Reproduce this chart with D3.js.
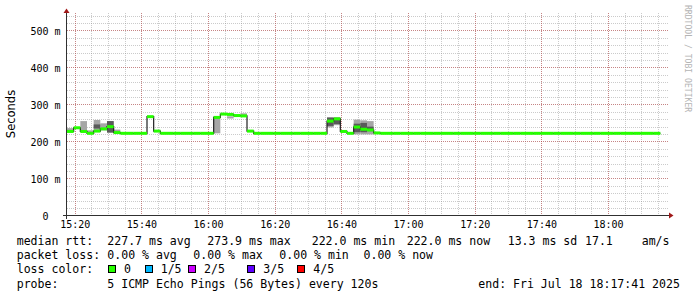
<!DOCTYPE html>
<html>
<head>
<meta charset="utf-8">
<script src="https://cdn.jsdelivr.net/npm/d3@7"></script>
<style>
  body { margin: 0; background: #fff; }
  svg { display: block; }
  text { white-space: pre; }
</style>
</head>
<body>
<div id="chart"></div>
<script>
// graph window and probe step
const startTime = new Date(2025, 6, 18, 15, 17, 41)
const endTime = new Date(2025, 6, 18, 18, 17, 41)
const stepSeconds = 120

// median rtt per probe step (ms)
const medianRtt = [
  227, 237, 227, 222, 228, 234, 240, 224, 222, 222, 222, 222, 267, 228,
  222, 222, 222, 222, 222, 222, 222, 222,
  265, 274, 273, 270, 269, 228,
  222, 222, 222, 222, 222, 222, 222, 222, 222, 222, 222,
  255, 261, 227, 222, 239, 233, 231, 223,
  222, 222, 222, 222, 222, 222, 222, 222, 222, 222,
  222, 222, 222, 222, 222, 222, 222, 222, 222, 222,
  222, 222, 222, 222, 222, 222, 222, 222, 222, 222,
  222, 222, 222, 222, 222, 222, 222, 222, 222, 222,
  222, 222
]

// smoke bands: [step, low ms, high ms]
const smokeOuter = [
  [0, 225, 236], [2, 226, 255], [3, 222, 230], [4, 226, 258], [5, 230, 249],
  [6, 224, 255], [7, 224, 232], [22, 222, 268], [24, 262, 268], [26, 269, 276],
  [39, 238, 266], [40, 244, 265], [43, 219, 259], [44, 219, 257], [45, 219, 255]
]
const smokeInner = [
  [4, 235, 246], [6, 224, 255], [39, 242, 264], [40, 247, 264],
  [43, 225, 248], [44, 225, 250], [45, 228, 240]
]

// axis ticks
const xTickLabels = ['15:20', '15:40', '16:00', '16:20', '16:40', '17:00', '17:20', '17:40', '18:00']
const yTickValues = [0, 100, 200, 300, 400, 500]

// legend
const rttStats = ['227.7 ms avg', '273.9 ms max', '222.0 ms min', '222.0 ms now', '13.3 ms sd', '17.1', 'am/s']
const lossStats = ['0.00 % avg', '0.00 % max', '0.00 % min', '0.00 % now']
const lossLabels = ['0', '1/5', '2/5', '3/5', '4/5']
const lossColors = ['#26ff00', '#00b8ff', '#cc00ff', '#5e00ff', '#ff0000']
const probeText = '5 ICMP Echo Pings (56 Bytes) every 120s'
const endText = 'end: Fri Jul 18 18:17:41 2025'

const width = 697, height = 297
const svg = d3.select('#chart')
    .append('svg')
        .attr('width', width)
        .attr('height', height)
        .style('font-family', '"DejaVu Sans Mono", monospace')

const x = d3.scaleTime().domain([startTime, endTime]).range([67, 667])
const y = d3.scaleLinear().domain([0, 547]).range([215.5, 13])
const px = (v) => Math.round(v) + 0.5
const stepTime = (i) => new Date(startTime.getTime() + i * stepSeconds * 1000)
const parseTick = (s) => {
    const [h, m] = s.split(':').map(Number)
    return new Date(2025, 6, 18, h, m)
}

// grid
const grid = svg.append('g').attr('class', 'grid')
const minorX = d3.timeMinute.every(5).range(startTime, endTime)
grid.selectAll('.vminor').data(minorX).join('line')
    .attr('x1', (d) => px(x(d))).attr('x2', (d) => px(x(d)))
    .attr('y1', 13).attr('y2', 215)
    .attr('stroke', '#8c8c8c').attr('stroke-opacity', 0.45).attr('stroke-dasharray', '1,1')
grid.selectAll('.hminor').data(d3.range(20, 547, 20)).join('line')
    .attr('x1', 67).attr('x2', 668)
    .attr('y1', (d) => px(y(d))).attr('y2', (d) => px(y(d)))
    .attr('stroke', '#8c8c8c').attr('stroke-opacity', 0.45).attr('stroke-dasharray', '1,1')
grid.selectAll('.vmajor').data(xTickLabels.map(parseTick)).join('line')
    .attr('x1', (d) => px(x(d))).attr('x2', (d) => px(x(d)))
    .attr('y1', 13).attr('y2', 215)
    .attr('stroke', '#c03030').attr('stroke-opacity', 0.45).attr('stroke-dasharray', '1,1')
grid.selectAll('.hmajor').data(yTickValues.filter((d) => d > 0)).join('line')
    .attr('x1', 67).attr('x2', 668)
    .attr('y1', (d) => px(y(d))).attr('y2', (d) => px(y(d)))
    .attr('stroke', '#c03030').attr('stroke-opacity', 0.45).attr('stroke-dasharray', '1,1')

// smoke
const plot = svg.append('g').attr('class', 'plot')
const drawSmoke = (bands, color) => {
    plot.append('g').selectAll('rect').data(bands).join('rect')
        .attr('x', (d) => x(stepTime(d[0])))
        .attr('width', (d) => x(stepTime(d[0] + 1)) - x(stepTime(d[0])))
        .attr('y', (d) => y(d[2]))
        .attr('height', (d) => y(d[1]) - y(d[2]))
        .attr('fill', color)
}
drawSmoke(smokeOuter, '#a6a6a6')
drawSmoke(smokeInner, '#5a5a5a')

// median line
const points = medianRtt.map((v, i) => [stepTime(i), v])
points.push([stepTime(medianRtt.length), medianRtt[medianRtt.length - 1]])
const medianLine = d3.line()
    .x((d) => x(d[0]))
    .y((d) => y(d[1]))
    .curve(d3.curveStepAfter)
plot.append('path')
    .attr('d', medianLine(points))
    .attr('fill', 'none')
    .attr('stroke', '#202020')
    .attr('stroke-width', 1.2)

// loss coloured median band
plot.append('g').selectAll('rect').data(medianRtt).join('rect')
    .attr('x', (d, i) => x(stepTime(i)))
    .attr('width', (d, i) => x(stepTime(i + 1)) - x(stepTime(i)))
    .attr('y', (d) => y(d) - 1.5)
    .attr('height', 3)
    .attr('fill', lossColors[0])

// axes
const xAxis = d3.axisBottom(x)
    .tickValues(xTickLabels.map(parseTick))
    .tickFormat(d3.timeFormat('%H:%M'))
    .tickSize(0)
svg.append('g')
    .attr('transform', 'translate(0,215.5)')
    .call(xAxis)
    .call((g) => g.select('.domain').remove())
    .call((g) => g.selectAll('text')
        .attr('y', 12).attr('dy', null)
        .style('font-family', '"DejaVu Sans Mono", monospace')
        .style('font-size', '10px').attr('fill', '#000'))

const yAxis = d3.axisLeft(y)
    .tickValues(yTickValues)
    .tickFormat((d) => d === 0 ? '0  ' : d + ' m')
    .tickSize(0)
svg.append('g')
    .attr('transform', 'translate(60.5,0)')
    .call(yAxis)
    .call((g) => g.select('.domain').remove())
    .call((g) => g.selectAll('text')
        .attr('x', 0).attr('dy', '0.36em')
        .attr('xml:space', 'preserve')
        .style('font-family', '"DejaVu Sans Mono", monospace')
        .style('font-size', '10px').attr('fill', '#000'))

// axis lines and arrows
svg.append('line').attr('x1', 63).attr('x2', 670).attr('y1', 215.5).attr('y2', 215.5)
    .attr('stroke', '#303030')
svg.append('line').attr('x1', 66.5).attr('x2', 66.5).attr('y1', 12).attr('y2', 219)
    .attr('stroke', '#303030')
svg.append('path').attr('d', 'M669,212.5L673.5,215.5L669,218.5Z').attr('fill', '#a01818')
svg.append('path').attr('d', 'M63.5,13L66.5,8.5L69.5,13Z').attr('fill', '#a01818')

// titles
svg.append('text')
    .attr('transform', 'translate(15,114) rotate(-90)')
    .attr('text-anchor', 'middle')
    .style('font-family', '"DejaVu Sans", sans-serif')
    .style('font-size', '11.5px')
    .text('Seconds')
svg.append('text')
    .attr('transform', 'translate(684.5,5) rotate(90)')
    .style('font-size', '8.1px')
    .attr('fill', '#b4b4b4')
    .text('RRDTOOL / TOBI OETIKER')

// legend
const legend = svg.append('g').style('font-size', '11.55px').attr('fill', '#000')
const row = [245, 259.2, 273.4, 287.6]
legend.append('text').attr('x', 16.7).attr('y', row[0]).text('median rtt:')
const rttX = [107.3, 207.3, 311.7, 406.7, 507.7, 585, 641.7]
rttStats.forEach((s, i) => legend.append('text').attr('x', rttX[i]).attr('y', row[0]).text(s))
legend.append('text').attr('x', 16.7).attr('y', row[1]).text('packet loss:')
const lossX = [107.3, 193.3, 279.3, 363.5]
lossStats.forEach((s, i) => legend.append('text').attr('x', lossX[i]).attr('y', row[1]).text(s))
legend.append('text').attr('x', 16.7).attr('y', row[2]).text('loss color:')
const boxX = [108.5, 145.5, 188.5, 247.5, 297.5]
const labelX = [124, 160.7, 204, 263.3, 313.3]
lossLabels.forEach((s, i) => {
    legend.append('rect')
        .attr('x', boxX[i]).attr('y', 265.5).attr('width', 7).attr('height', 7)
        .attr('fill', lossColors[i]).attr('stroke', '#000')
    legend.append('text').attr('x', labelX[i]).attr('y', row[2]).text(s)
})
legend.append('text').attr('x', 16.7).attr('y', row[3]).text('probe:')
legend.append('text').attr('x', 107.3).attr('y', row[3]).text(probeText)
legend.append('text').attr('x', 478.3).attr('y', row[3]).text(endText)
</script>
</body>
</html>
